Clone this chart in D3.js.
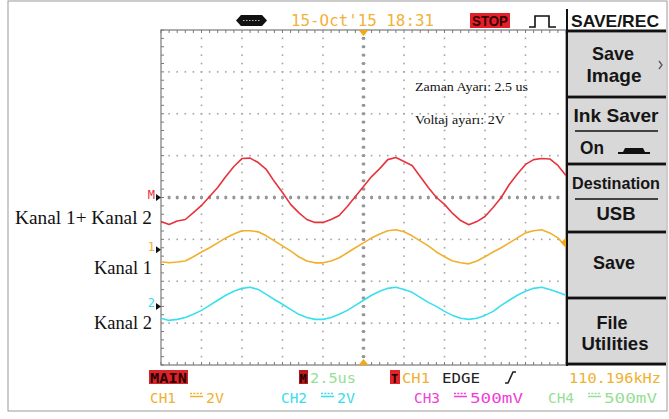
<!DOCTYPE html>
<html><head><meta charset="utf-8">
<script src="https://cdn.jsdelivr.net/npm/d3@7"></script>
<style>body{margin:0;background:#fff}svg{display:block}</style>
</head><body><svg id="c" width="669" height="419"></svg>
<script>
// ---------------- data ----------------
const timeUs = d3.range(-12.5, 12.5001, 0.5);           // sample times (µs), 2.5 µs/div
const mathV = [-1.15,-1.29,-1.12,-1.05,-0.72,-0.38,0.05,0.48,1.00,1.48,
               1.86,1.88,1.67,1.34,0.76,0.24,-0.33,-0.72,-1.05,-1.19,
               -1.19,-1.05,-0.86,-0.43,0.05,0.53,1.00,1.38,1.81,1.91,
               1.72,1.53,1.00,0.48,0.00,-0.33,-0.76,-1.10,-1.30,-1.15,
               -0.91,-0.48,0.00,0.62,1.12,1.58,1.81,1.86,1.84,1.53,1.05];
const ch1V  = [-0.57,-0.62,-0.58,-0.53,-0.33,-0.10,0.10,0.33,0.57,0.76,
               0.91,0.91,0.86,0.67,0.43,0.19,-0.05,-0.33,-0.53,-0.62,
               -0.62,-0.53,-0.38,-0.14,0.10,0.33,0.57,0.76,0.91,0.96,
               0.86,0.67,0.43,0.19,-0.10,-0.33,-0.53,-0.62,-0.67,-0.53,
               -0.33,-0.10,0.10,0.33,0.57,0.81,0.91,0.96,0.81,0.57,0.14];
const ch2V  = [-0.57,-0.67,-0.62,-0.53,-0.38,-0.19,0.05,0.29,0.53,0.72,
               0.86,0.91,0.81,0.57,0.33,0.10,-0.14,-0.38,-0.53,-0.62,
               -0.62,-0.53,-0.38,-0.19,0.05,0.29,0.53,0.72,0.86,0.91,
               0.81,0.67,0.43,0.19,0.00,-0.24,-0.43,-0.57,-0.62,-0.57,
               -0.43,-0.24,0.05,0.29,0.53,0.72,0.86,0.91,0.81,0.67,0.53];
const traceNames   = ["M", "1", "2"];
const traceLabels  = ["Kanal 1+ Kanal 2", "Kanal 1", "Kanal 2"];
const voltsPerDiv  = 2;
const triggerLevelV = 0.35;
const headerDate = "15-Oct'15 18:31";
const menuTitle = "SAVE/REC";
const freqText = "110.196kHz";
const timebaseText = "2.5us";
const chScaleNames = ["CH1", "CH2", "CH3", "CH4"];
const chScaleValues = ["2V", "2V", "500mV", "500mV"];
const notes = ["Zaman Ayarı: 2.5 us", "Voltaj ayarı: 2V"];

// ---------------- layout / style ----------------
const svg = d3.select("#c");
const X0 = 161, X1 = 566, Y0 = 30, Y1 = 365;
const x = d3.scaleLinear().domain([-12.5, 12.5]).range([X0, X1]);
const y = d3.scaleLinear().domain([-4, 4]).range([Y1, Y0]);
const traceOffsetDiv = [0, -1.25, -2.6];
const traceColor = ["#e8323c", "#f0b02c", "#38e0ee"];
const mono = "'DejaVu Sans Mono', monospace";
const sans = "'Liberation Sans', Arial, sans-serif";
const serif = "'Liberation Serif', 'Times New Roman', serif";

svg.append("rect").attr("x", 8).attr("y", 1).attr("width", 659).attr("height", 410)
  .attr("fill", "none").attr("stroke", "#9a9a9a").attr("stroke-width", 1);

// ---------------- graticule ----------------
const grid = svg.append("g");
const majorT = d3.range(-12.5, 12.5001, 2.5);
const majorV = d3.range(-4, 4.001, 1);
const minorT = d3.range(-12.5, 12.5001, 0.5);
const minorV = d3.range(-4, 4.001, 0.2);
const dots = [];
majorT.forEach(t => {
  if (Math.abs(t) > 12.4) return;
  minorV.forEach(v => { if (Math.abs(v) < 3.99) dots.push({t, v, c: Math.abs(t) < 1e-6}); });
});
majorV.forEach(v => {
  if (Math.abs(v) > 3.99) return;
  minorT.forEach(t => { if (Math.abs(t) < 12.4) dots.push({t, v, c: Math.abs(v) < 1e-6}); });
});
grid.selectAll("rect.dot").data(dots).join("rect")
  .attr("x", d => x(d.t) - (d.c ? 1.4 : 0.8))
  .attr("y", d => y(d.v) - (d.c ? 1.4 : 0.8))
  .attr("width", d => d.c ? 2.8 : 1.6).attr("height", d => d.c ? 2.8 : 1.6)
  .attr("fill", d => d.c ? "#8c8c8c" : "#a4a4a4");
grid.selectAll("line.ct").data(minorV.filter(v => Math.abs(v) < 3.99)).join("line")
  .attr("x1", x(0) - 2).attr("x2", x(0) + 2).attr("y1", d => y(d)).attr("y2", d => y(d))
  .attr("stroke", "#9a9a9a").attr("stroke-width", 1);
grid.selectAll("line.ch").data(minorT.filter(t => Math.abs(t) < 12.4)).join("line")
  .attr("y1", y(0) - 2).attr("y2", y(0) + 2).attr("x1", d => x(d)).attr("x2", d => x(d))
  .attr("stroke", "#9a9a9a").attr("stroke-width", 1);
grid.append("rect").attr("x", X0).attr("y", Y0).attr("width", X1 - X0).attr("height", Y1 - Y0)
  .attr("fill", "none").attr("stroke", "#7a7a7a").attr("stroke-width", 1.2);
grid.selectAll("line.lt").data(minorV).join("line")
  .attr("x1", X0).attr("x2", X0 + 3).attr("y1", d => y(d)).attr("y2", d => y(d))
  .attr("stroke", "#7a7a7a");
grid.selectAll("line.tt").data(minorT).join("line")
  .attr("x1", d => x(d)).attr("x2", d => x(d)).attr("y1", Y0).attr("y2", Y0 + 3)
  .attr("stroke", "#7a7a7a");
grid.selectAll("line.bt").data(minorT).join("line")
  .attr("x1", d => x(d)).attr("x2", d => x(d)).attr("y1", Y1).attr("y2", Y1 - 3)
  .attr("stroke", "#7a7a7a");

// ---------------- traces ----------------
const series = [mathV, ch1V, ch2V];
series.forEach((vals, k) => {
  const line = d3.line()
    .x((d, i) => x(timeUs[i]))
    .y(d => y(traceOffsetDiv[k] + d / voltsPerDiv));
  svg.append("path").datum(vals).attr("d", line)
    .attr("fill", "none").attr("stroke", traceColor[k]).attr("stroke-width", 1.6)
    .attr("stroke-linejoin", "round");
});

traceNames.forEach((n, k) => {
  const yy = y(traceOffsetDiv[k]);
  svg.append("path").attr("d", `M${X0 - 5},${yy - 3.5} L${X0},${yy} L${X0 - 5},${yy + 3.5} Z`).attr("fill", "#111");
  svg.append("text").attr("x", X0 - 6).attr("y", yy + 1).attr("text-anchor", "end")
    .attr("font-family", mono).attr("font-size", 12).attr("fill", traceColor[k]).text(n);
});
const trg = "#f0a81c";
svg.append("path").attr("d", `M${x(0) - 5},${Y0} L${x(0) + 5},${Y0} L${x(0)},${Y0 + 6} Z`).attr("fill", trg);
svg.append("path").attr("d", `M${x(0) - 5},${Y1} L${x(0) + 5},${Y1} L${x(0)},${Y1 - 6} Z`).attr("fill", trg);
const ty = y(traceOffsetDiv[1] + triggerLevelV / voltsPerDiv);
svg.append("path").attr("d", `M${X1},${ty - 5} L${X1},${ty + 5} L${X1 - 5},${ty} Z`).attr("fill", trg);

const labelBase = [224, 274, 329];
const labelLen = [137, 58, 58];
traceLabels.forEach((t, k) => {
  svg.append("text").attr("x", 152).attr("y", labelBase[k]).attr("text-anchor", "end")
    .attr("font-family", serif).attr("font-size", 18).attr("fill", "#111")
    .attr("textLength", labelLen[k]).attr("lengthAdjust", "spacingAndGlyphs").text(t);
});
[[91, 113], [124, 90]].forEach(([b, len], i) => {
  svg.append("text").attr("x", 415).attr("y", b).attr("font-family", serif).attr("font-size", 12.5)
    .attr("fill", "#111").attr("textLength", len).attr("lengthAdjust", "spacingAndGlyphs").text(notes[i]);
});

// ---------------- header ----------------
svg.append("path").attr("d", "M236,20.5 L241,15 L262,15 L267,20.5 L262,26 L241,26 Z").attr("fill", "#111");
svg.append("line").attr("x1", 243).attr("x2", 260).attr("y1", 20.5).attr("y2", 20.5)
  .attr("stroke", "#bbb").attr("stroke-width", 1.2).attr("stroke-dasharray", "1.5,1.5");
svg.append("text").attr("x", 291).attr("y", 26).attr("font-family", mono).attr("font-size", 15.5)
  .attr("fill", "#f2b23a").attr("textLength", 143).attr("lengthAdjust", "spacingAndGlyphs").text(headerDate);
svg.append("rect").attr("x", 470).attr("y", 13).attr("width", 40).attr("height", 15).attr("fill", "#e3202a");
svg.append("text").attr("x", 472).attr("y", 26).attr("font-family", sans).attr("font-weight", "bold")
  .attr("font-size", 14).attr("fill", "#3a0000").attr("textLength", 36).attr("lengthAdjust", "spacingAndGlyphs").text("STOP");
svg.append("path").attr("d", "M529,27 L535,27 L535,16 L549,16 L549,27 L556,27")
  .attr("fill", "none").attr("stroke", "#111").attr("stroke-width", 1.6);

// ---------------- right menu ----------------
const PX0 = 567, PX1 = 667;
const buttons = [[33, 95], [99, 162], [166, 230], [234, 296], [300, 362]];
svg.selectAll("rect.btn").data(buttons).join("rect")
  .attr("x", PX0 + 1).attr("y", d => d[0]).attr("width", PX1 - PX0 - 2).attr("height", d => d[1] - d[0])
  .attr("fill", "#d8d8d8");
[31, 97, 164, 232, 298, 364].forEach(yy => {
  svg.append("line").attr("x1", PX0).attr("x2", PX1 - 1).attr("y1", yy).attr("y2", yy)
    .attr("stroke", "#111").attr("stroke-width", 3);
});
svg.append("line").attr("x1", PX0).attr("x2", PX0).attr("y1", 9).attr("y2", 366)
  .attr("stroke", "#111").attr("stroke-width", 2);
[131, 199].forEach(yy => {
  svg.append("line").attr("x1", 575).attr("x2", 658).attr("y1", yy).attr("y2", yy)
    .attr("stroke", "#111").attr("stroke-width", 1.6);
});
const menuText = [
  [menuTitle, 615, 27, 88, 17],
  ["Save", 613, 60, 42, 19], ["Image", 614, 82, 55, 19],
  ["Ink Saver", 616, 122, 85, 19], ["On", 592, 154, 24, 19],
  ["Destination", 616, 189, 88, 16.5], ["USB", 616, 220, 39, 19],
  ["Save", 614, 269, 42, 19],
  ["File", 612, 329, 31, 19], ["Utilities", 615, 350, 67, 19]
];
menuText.forEach(([t, cx, b, len, fs]) => {
  svg.append("text").attr("x", cx).attr("y", b).attr("text-anchor", "middle")
    .attr("font-family", sans).attr("font-weight", "bold").attr("font-size", fs).attr("fill", "#151515")
    .attr("textLength", len).attr("lengthAdjust", "spacingAndGlyphs").text(t);
});
svg.append("path").attr("d", "M618,154 L650,154 L650,152 L645,152 L643,148 L625,148 L623,152 L618,152 Z").attr("fill", "#111");
svg.append("path").attr("d", "M659,61 L662,65 L659,69").attr("fill", "none").attr("stroke", "#555").attr("stroke-width", 1.3);

// ---------------- status bar ----------------
const fs = 14.5;
svg.append("rect").attr("x", 149).attr("y", 370).attr("width", 39).attr("height", 14).attr("fill", "#d9242a");
svg.append("text").attr("x", 150).attr("y", 382.5).attr("font-family", mono).attr("font-weight", "bold")
  .attr("font-size", fs).attr("fill", "#2a0000").attr("textLength", 37).attr("lengthAdjust", "spacingAndGlyphs").text("MAIN");
svg.append("rect").attr("x", 299).attr("y", 370).attr("width", 9).attr("height", 14).attr("fill", "#b81a1a");
svg.append("text").attr("x", 299.5).attr("y", 382.5).attr("font-family", mono).attr("font-weight", "bold")
  .attr("font-size", 12).attr("fill", "#200").text("M");
svg.append("text").attr("x", 310).attr("y", 382.5).attr("font-family", mono).attr("font-size", fs)
  .attr("fill", "#96e096").attr("textLength", 46).attr("lengthAdjust", "spacingAndGlyphs").text(timebaseText);
svg.append("rect").attr("x", 390).attr("y", 370).attr("width", 10).attr("height", 14).attr("fill", "#e0242a");
svg.append("text").attr("x", 391).attr("y", 382.5).attr("font-family", mono).attr("font-weight", "bold")
  .attr("font-size", 12).attr("fill", "#200").text("T");
svg.append("text").attr("x", 402).attr("y", 382.5).attr("font-family", mono).attr("font-size", fs)
  .attr("fill", "#f0b030").attr("textLength", 28).attr("lengthAdjust", "spacingAndGlyphs").text("CH1");
svg.append("text").attr("x", 442).attr("y", 382.5).attr("font-family", mono).attr("font-size", fs)
  .attr("fill", "#222").attr("textLength", 38).attr("lengthAdjust", "spacingAndGlyphs").text("EDGE");
svg.append("path").attr("d", "M505,383 L508,383 L513,372 L516,372").attr("fill", "none").attr("stroke", "#222").attr("stroke-width", 1.6);
svg.append("text").attr("x", 569).attr("y", 382.5).attr("font-family", mono).attr("font-size", fs)
  .attr("fill", "#f0b030").attr("textLength", 92).attr("lengthAdjust", "spacingAndGlyphs").text(freqText);

const chColors = ["#f0b030", "#38dcec", "#f040d8", "#96e096"];
const chX = [150, 281, 414, 548];
chScaleNames.forEach((n, i) => {
  const g = svg.append("g");
  const bx = chX[i];
  g.append("text").attr("x", bx).attr("y", 402.5).attr("font-family", mono).attr("font-size", fs)
    .attr("fill", chColors[i]).attr("textLength", 26).attr("lengthAdjust", "spacingAndGlyphs").text(n);
  const sx = bx + 40;
  g.append("line").attr("x1", sx).attr("x2", sx + 13).attr("y1", 393.5).attr("y2", 393.5)
    .attr("stroke", chColors[i]).attr("stroke-width", 1.3).attr("stroke-dasharray", "2,1.3");
  g.append("line").attr("x1", sx).attr("x2", sx + 13).attr("y1", 396.5).attr("y2", 396.5)
    .attr("stroke", chColors[i]).attr("stroke-width", 1.5);
  const wide = chScaleValues[i].length > 2;
  g.append("text").attr("x", sx + 16).attr("y", 402.5).attr("font-family", mono).attr("font-size", fs)
    .attr("fill", chColors[i]).attr("textLength", wide ? 53 : 18).attr("lengthAdjust", "spacingAndGlyphs")
    .text(chScaleValues[i]);
});
</script></body></html>
